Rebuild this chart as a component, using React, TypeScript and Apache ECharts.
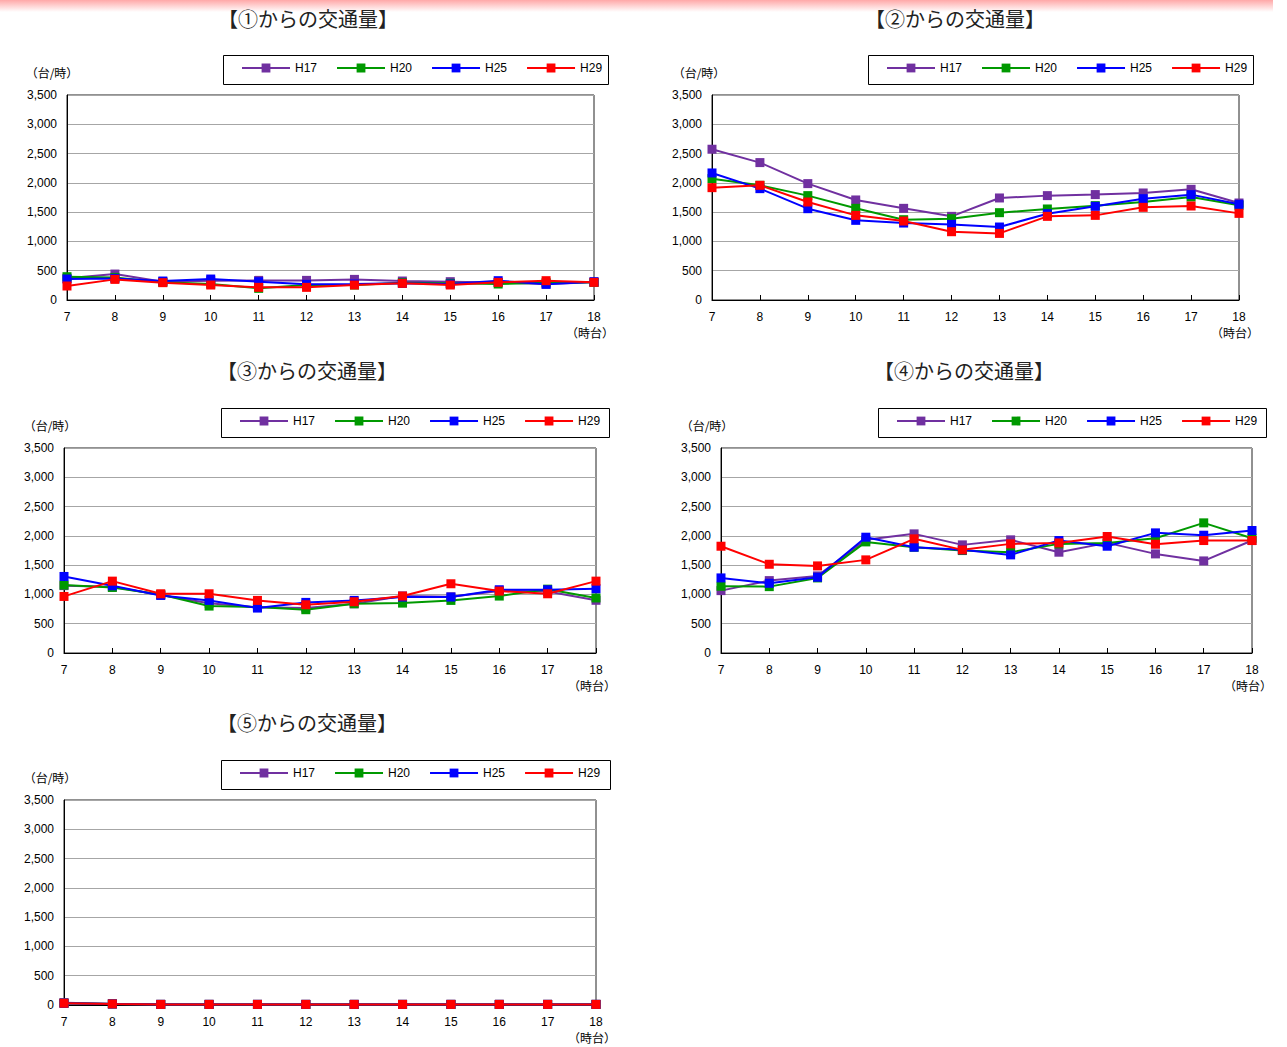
import React, { useEffect, useRef } from "react";
import * as echarts from "echarts";

const hours = ["7", "8", "9", "10", "11", "12", "13", "14", "15", "16", "17", "18"];
const years = ["H17", "H20", "H25", "H29"];
const colors = ["#7030A0", "#009900", "#0000FF", "#FF0000"];
const titles = [
  "【①からの交通量】",
  "【②からの交通量】",
  "【③からの交通量】",
  "【④からの交通量】",
  "【⑤からの交通量】",
];

// Chart 1
const c1H17 = [370, 443, 313, 330, 335, 335, 352, 324, 313, 300, 273, 301];
const c1H20 = [398, 386, 301, 273, 199, 256, 256, 296, 284, 273, 296, 301];
const c1H25 = [358, 369, 324, 358, 313, 267, 273, 284, 273, 330, 267, 313];
const c1H29 = [239, 352, 296, 256, 216, 216, 256, 284, 256, 301, 330, 301];
// Chart 2
const c2H17 = [2574, 2346, 1987, 1708, 1565, 1428, 1742, 1782, 1800, 1827, 1890, 1656];
const c2H20 = [2072, 1958, 1782, 1565, 1371, 1388, 1491, 1554, 1611, 1673, 1759, 1616];
const c2H25 = [2169, 1901, 1559, 1360, 1314, 1291, 1246, 1474, 1599, 1730, 1799, 1633];
const c2H29 = [1918, 1958, 1673, 1445, 1348, 1166, 1137, 1428, 1445, 1582, 1605, 1479];
// Chart 3
const c3H17 = [1150, 1130, 990, 850, 780, 770, 840, 975, 960, 1060, 1050, 900];
const c3H20 = [1159, 1119, 1000, 801, 784, 739, 841, 852, 898, 972, 1090, 940];
const c3H25 = [1307, 1148, 983, 898, 767, 864, 898, 955, 955, 1080, 1080, 1097];
const c3H29 = [966, 1227, 1011, 1011, 898, 824, 875, 972, 1182, 1057, 1011, 1227];
// Chart 4
const c4H17 = [1065, 1236, 1316, 1932, 2034, 1846, 1932, 1721, 1880, 1692, 1572, 1920];
const c4H20 = [1139, 1133, 1282, 1897, 1806, 1749, 1721, 1863, 1880, 1960, 2222, 1960];
const c4H25 = [1282, 1190, 1293, 1977, 1806, 1761, 1675, 1920, 1823, 2051, 2011, 2091];
const c4H29 = [1823, 1515, 1487, 1590, 1949, 1761, 1863, 1880, 1989, 1857, 1920, 1920];
// Chart 5
const c5H17 = [40, 20, 12, 12, 12, 12, 12, 12, 12, 12, 12, 12];
const c5H20 = [30, 18, 10, 10, 10, 10, 10, 10, 10, 10, 10, 10];
const c5H25 = [30, 18, 10, 10, 10, 10, 10, 10, 10, 10, 10, 10];
const c5H29 = [30, 18, 10, 10, 10, 10, 10, 10, 10, 10, 10, 10];

const chartData = [
  [c1H17, c1H20, c1H25, c1H29],
  [c2H17, c2H20, c2H25, c2H29],
  [c3H17, c3H20, c3H25, c3H29],
  [c4H17, c4H20, c4H25, c4H29],
  [c5H17, c5H20, c5H25, c5H29],
];

// layout: plot areas
const panels = [
  { left: 67, top: 95, width: 527, height: 205, titleX: 308, titleY: 18, legX: 223, legY: 55, legW: 385, unitX: 52, unitY: 72 },
  { left: 712, top: 95, width: 527, height: 205, titleX: 955, titleY: 18, legX: 868, legY: 55, legW: 385, unitX: 699, unitY: 72 },
  { left: 64, top: 448, width: 532, height: 205, titleX: 307, titleY: 370, legX: 221, legY: 408, legW: 388, unitX: 50, unitY: 425 },
  { left: 721, top: 448, width: 531, height: 205, titleX: 964, titleY: 370, legX: 878, legY: 408, legW: 388, unitX: 707, unitY: 425 },
  { left: 64, top: 800, width: 532, height: 205, titleX: 307, titleY: 722, legX: 221, legY: 760, legW: 389, unitX: 50, unitY: 777 },
];

const numFont = "'Liberation Sans', Arial, sans-serif";
const jpFont = "'Noto Sans CJK JP', sans-serif";

export default function App() {
  const ref = useRef<HTMLDivElement>(null);
  useEffect(() => {
    if (!ref.current) return;
    const chart = echarts.init(ref.current, null, { renderer: "svg" });

    const grid: any[] = [];
    const xAxis: any[] = [];
    const yAxis: any[] = [];
    const series: any[] = [];
    const legend: any[] = [];
    const graphic: any[] = [];

    graphic.push({
      type: "rect",
      shape: { x: 0, y: 0, width: 1273, height: 12 },
      style: {
        fill: new echarts.graphic.LinearGradient(0, 0, 0, 1, [
          { offset: 0, color: "#ffa8a8" },
          { offset: 1, color: "#ffffff" },
        ]),
      },
      z: 0,
    });

    panels.forEach((p, i) => {
      grid.push({
        left: p.left,
        top: p.top,
        width: p.width,
        height: p.height,
        show: true,
        borderColor: "#222",
        borderWidth: 1,
        backgroundColor: "transparent",
      });
      xAxis.push({
        type: "category",
        gridIndex: i,
        data: hours,
        boundaryGap: false,
        axisLine: { lineStyle: { color: "#000", width: 1 } },
        axisTick: { inside: true, length: 5, lineStyle: { color: "#000" } },
        axisLabel: { color: "#000", fontSize: 12, fontFamily: numFont, margin: 11 },
        splitLine: { show: false },
      });
      yAxis.push({
        type: "value",
        gridIndex: i,
        min: 0,
        max: 3500,
        interval: 500,
        axisLine: { show: true, lineStyle: { color: "#000", width: 1 } },
        axisTick: { show: false },
        axisLabel: {
          color: "#000",
          fontSize: 12,
          fontFamily: numFont,
          margin: 10,
          formatter: (v: number) => v.toLocaleString("en-US"),
        },
        splitLine: { show: true, lineStyle: { color: "#a6a6a6", width: 1 } },
      });
      years.forEach((y, j) => {
        series.push({
          type: "line",
          name: y,
          xAxisIndex: i,
          yAxisIndex: i,
          data: chartData[i][j],
          symbol: "rect",
          symbolSize: 9,
          showAllSymbol: true,
          lineStyle: { color: colors[j], width: 2 },
          itemStyle: { color: colors[j] },
          z: 2 + j,
          silent: true,
        });
      });
      legend.push({
        data: years,
        left: p.legX + 18,
        top: p.legY + 7,
        padding: 0,
        itemWidth: 48,
        itemHeight: 11,
        itemGap: 19,
        selectedMode: false,
        textStyle: { color: "#000", fontSize: 12, fontFamily: numFont },
      });
      graphic.push({
        type: "rect",
        shape: { x: p.legX + 0.5, y: p.legY + 0.5, width: p.legW, height: 29 },
        style: { fill: "#fff", stroke: "#000", lineWidth: 1 },
        z: 0,
      });
      graphic.push({
        type: "text",
        x: p.titleX,
        y: p.titleY,
        style: {
          text: titles[i],
          fontSize: 20,
          fontFamily: jpFont,
          fill: "#222",
          align: "center",
          verticalAlign: "middle",
          textAlign: "center",
          textVerticalAlign: "middle",
        },
        z: 5,
      });
      graphic.push({
        type: "text",
        x: p.unitX,
        y: p.unitY,
        style: {
          text: "（台/時）",
          fontSize: 12,
          fontFamily: jpFont,
          fill: "#000",
          align: "center",
          verticalAlign: "middle",
          textAlign: "center",
          textVerticalAlign: "middle",
        },
        z: 5,
      });
      graphic.push({
        type: "text",
        x: p.left + p.width - 4,
        y: p.top + p.height + 32,
        style: {
          text: "（時台）",
          fontSize: 12,
          fontFamily: jpFont,
          fill: "#000",
          align: "center",
          verticalAlign: "middle",
          textAlign: "center",
          textVerticalAlign: "middle",
        },
        z: 5,
      });
    });

    chart.setOption({
      animation: false,
      backgroundColor: "#fff",
      grid,
      xAxis,
      yAxis,
      series,
      legend,
      graphic,
    });
    return () => chart.dispose();
  }, []);
  return (
    <div
      ref={ref}
      style={{ position: "absolute", left: 0, top: 0, width: 1287, height: 1047 }}
    />
  );
}
